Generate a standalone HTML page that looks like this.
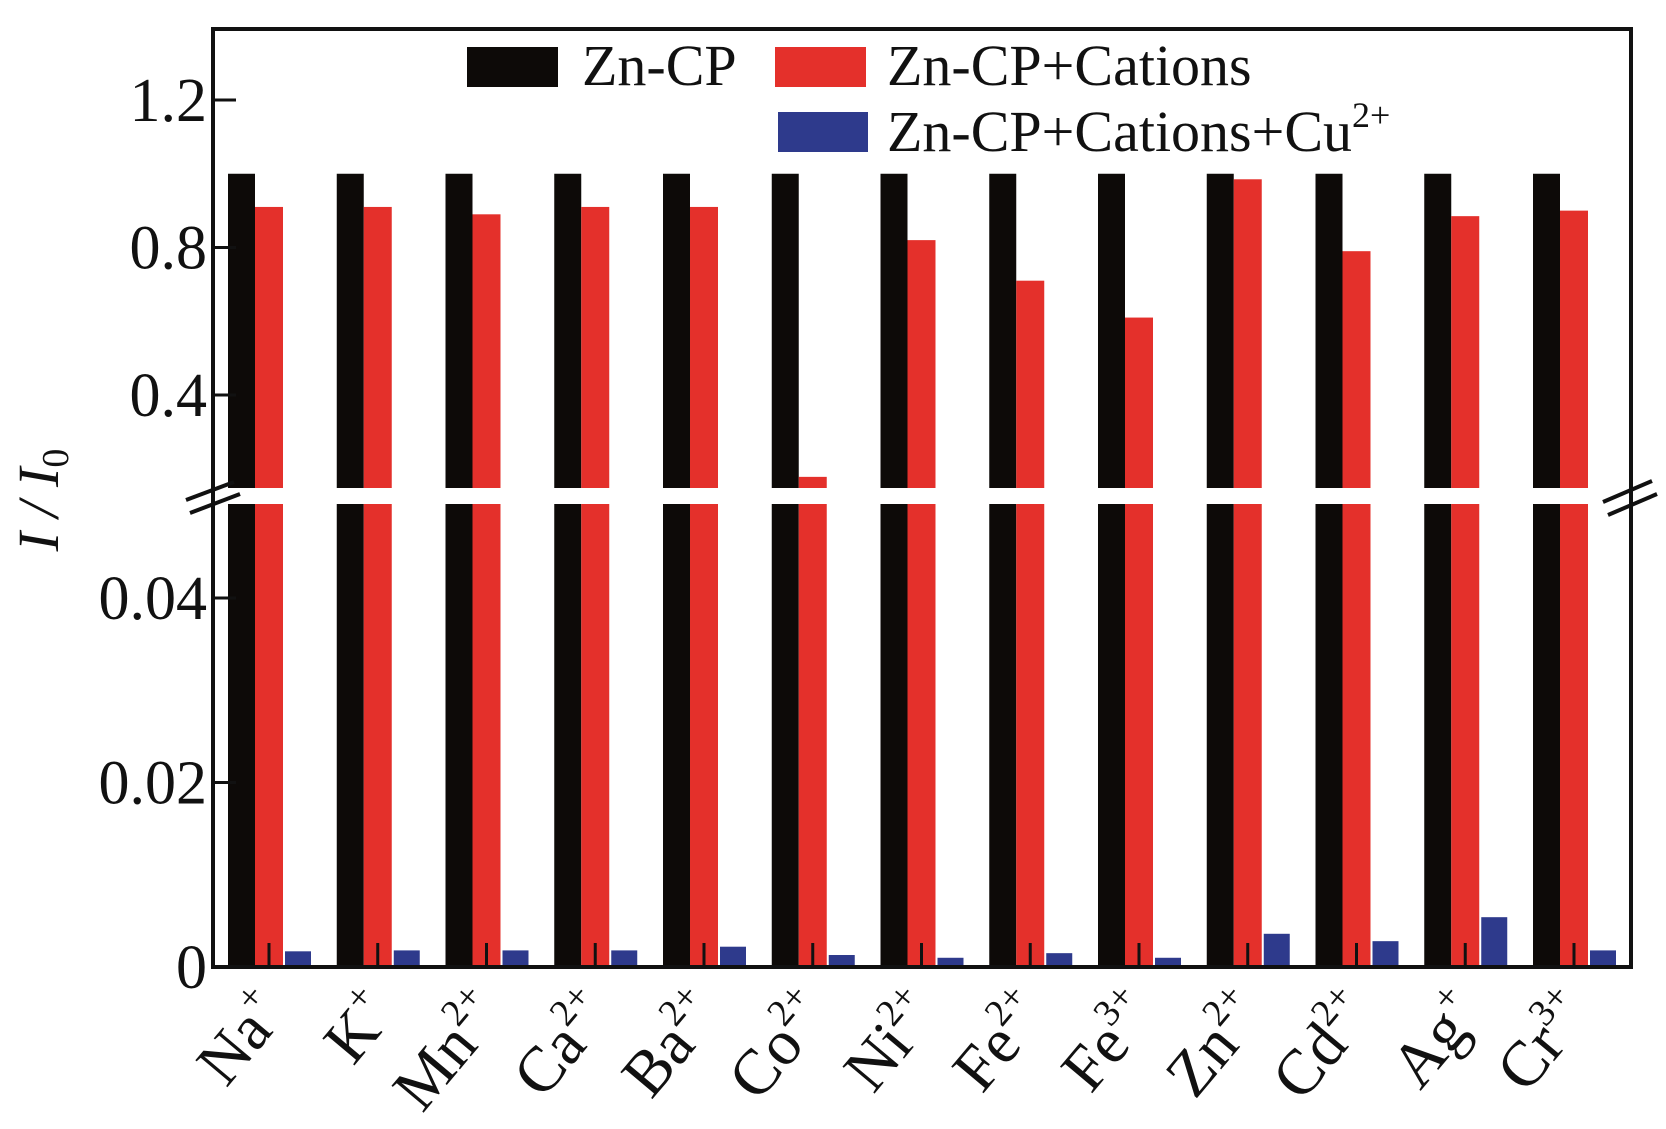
<!DOCTYPE html>
<html><head><meta charset="utf-8"><style>
html,body{margin:0;padding:0;background:#fff;}
svg{display:block;font-family:"Liberation Serif",serif;}
</style></head><body>
<svg id="chart" width="1666" height="1129" viewBox="0 0 1666 1129">
<g id="bars"></g>
<g id="axes"></g>
<g>
  <rect x="467" y="47" width="91" height="40" fill="#0d0a08"/>
  <text x="582" y="85" font-size="58" fill="#111">Zn-CP</text>
  <rect x="775" y="47" width="91" height="40" fill="#e4302b"/>
  <text x="887" y="85" font-size="58" fill="#111">Zn-CP+Cations</text>
  <rect x="778" y="112" width="90" height="40" fill="#2e3a8c"/>
  <text x="887" y="151" font-size="58" fill="#111">Zn-CP+Cations+Cu<tspan font-size="36" dy="-24">2+</tspan></text>
</g>
<text transform="translate(58,500) rotate(-90)" text-anchor="middle" font-size="58" font-style="italic" fill="#111">I / I<tspan font-size="38" dy="10" font-style="normal">0</tspan></text>
</svg>
<script>
const categories=["Na","K","Mn","Ca","Ba","Co","Ni","Fe","Fe","Zn","Cd","Ag","Cr"];
const charges=["+","+","2+","2+","2+","2+","2+","2+","3+","2+","2+","+","3+"];
const zncp=[1,1,1,1,1,1,1,1,1,1,1,1,1];
const cations=[0.91,0.91,0.89,0.91,0.91,0.178,0.82,0.71,0.61,0.985,0.79,0.885,0.90];
const cuVals=[0.0017,0.0018,0.0018,0.0018,0.0022,0.0013,0.001,0.0015,0.001,0.0036,0.0028,0.0054,0.0018];
const upperTicks=[0.4,0.8,1.2];
const lowerTicks=[0,0.02,0.04];
const upperTickLabels=["0.4","0.8","1.2"];
const lowerTickLabels=["0","0.02","0.04"];

const NS="http://www.w3.org/2000/svg";
const L=213,R=1631,T=29,B=967,UB=488,LT=504;
function yUp(v){return 395-(v-0.4)*368.75;}
function yLo(v){return B-v*9225;}
const UPMIN=0.4-(UB-395)/368.75, LOMAX=(B-LT)/9225;
function xg(i){return 228+i*108.75;}
function mk(tag,attrs,parent){const e=document.createElementNS(NS,tag);for(const k in attrs)e.setAttribute(k,attrs[k]);parent.appendChild(e);return e;}
const bars=document.getElementById('bars'),axes=document.getElementById('axes');

function drawBar(x,w,v,color,name){
  const lt=Math.max(yLo(Math.min(v,LOMAX)),LT);
  let r=mk('rect',{x:x,y:lt,width:w,height:B-lt,fill:color},bars);
  
  
  if(v>UPMIN){
    const ut=yUp(v);
    let r2=mk('rect',{x:x,y:ut,width:w,height:UB-ut,fill:color},bars);
    
    
  }
}
categories.forEach((c,i)=>{
  const x=xg(i);
  drawBar(x,27,zncp[i],'#0d0a08','bar-zncp-'+i);
  drawBar(x+27,28,cations[i],'#e4302b','bar-cations-'+i);
  drawBar(x+57,26,cuVals[i],'#2e3a8c','bar-cu-'+i);
  const t=mk('line',{x1:x+41,x2:x+41,y1:B,y2:B-24,stroke:'#111','stroke-width':3},axes);
  
  
  const lx=x+60,ly=B+48;
  const tx=mk('text',{transform:`translate(${lx},${ly}) rotate(-50)`,'text-anchor':'end','font-size':64,fill:'#111'},axes);
  
  
  tx.appendChild(document.createTextNode(c));
  const sp=mk('tspan',{'font-size':38,dy:-28},tx);
  sp.textContent=charges[i];
});
const fr=mk('path',{d:`M${L},${T}H${R}V${B}H${L}Z`,fill:'none',stroke:'#111','stroke-width':4},axes);


upperTicks.forEach((v,i)=>{
  const y=yUp(v);
  const l=mk('line',{x1:L,x2:L+23,y1:y,y2:y,stroke:'#111','stroke-width':3},axes);
  
  
  const t=mk('text',{x:207,y:y+21,'text-anchor':'end','font-size':62,fill:'#111'},axes);
  
  
  t.textContent=upperTickLabels[i];
});
lowerTicks.forEach((v,i)=>{
  const y=yLo(v);
  const l=mk('line',{x1:L,x2:L+23,y1:y,y2:y,stroke:'#111','stroke-width':3},axes);
  
  
  const t=mk('text',{x:207,y:y+21,'text-anchor':'end','font-size':62,fill:'#111'},axes);
  
  
  t.textContent=lowerTickLabels[i];
});
[[186,500,234,482],[190,513,240,494],[1603,502,1652,481],[1608,515,1657,494]].forEach(p=>{
  const l=mk('line',{x1:p[0],y1:p[1],x2:p[2],y2:p[3],stroke:'#111','stroke-width':4},axes);
  
  
});
</script>
</body></html>
